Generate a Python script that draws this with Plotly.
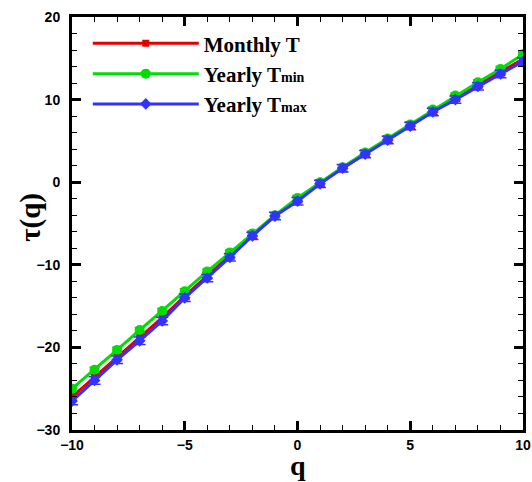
import plotly.graph_objects as go

q = list(range(-10, 11))
monthly_T = [-26.0, -23.6, -21.2, -18.8, -16.4, -13.8, -11.3, -8.9, -6.4, -4.1, -2.1,
             -0.1, 1.7, 3.5, 5.2, 6.9, 8.6, 10.2, 11.8, 13.3, 14.9]
yearly_Tmin = [-25.0, -22.7, -20.3, -17.9, -15.6, -13.2, -10.8, -8.5, -6.2, -4.0, -1.9,
               0.0, 1.8, 3.6, 5.3, 7.0, 8.8, 10.5, 12.1, 13.7, 15.5]
yearly_Tmax = [-26.5, -24.0, -21.5, -19.2, -16.8, -14.0, -11.6, -9.1, -6.5, -4.1, -2.3,
               -0.2, 1.7, 3.4, 5.1, 6.8, 8.5, 10.0, 11.6, 13.1, 14.6]
err_monthly = [0.4] * len(q)
err_min = [0.3] * len(q)
err_max = [0.45] * len(q)

sub = "<span style='font-size:14px'>{}</span>"
fig = go.Figure()
fig.add_trace(go.Scatter(x=q, y=monthly_T, name="Monthly T", mode="lines+markers",
                         line=dict(color="#E00000", width=3),
                         marker=dict(symbol="square", size=7, color="#E00000"),
                         error_y=dict(type="data", array=err_monthly, color="#E00000", thickness=1.5, width=5)))
fig.add_trace(go.Scatter(x=q, y=yearly_Tmin, name="Yearly T" + sub.format("min"), mode="lines+markers",
                         line=dict(color="#00DD00", width=3),
                         marker=dict(symbol="circle", size=10, color="#00DD00"),
                         error_y=dict(type="data", array=err_min, color="#00DD00", thickness=1.5, width=5)))
fig.add_trace(go.Scatter(x=q, y=yearly_Tmax, name="Yearly T" + sub.format("max"), mode="lines+markers",
                         line=dict(color="#3333FF", width=3),
                         marker=dict(symbol="diamond", size=9, color="#3333FF"),
                         error_y=dict(type="data", array=err_max, color="#3333FF", thickness=1.5, width=6)))

tickfont = dict(family="Liberation Sans", size=14, color="black", weight="bold")
titlefont = dict(family="Liberation Serif", size=29, color="black", weight="bold")
fig.update_layout(
    width=532, height=482,
    margin=dict(l=72, r=9, t=17, b=52),
    paper_bgcolor="white", plot_bgcolor="white",
    showlegend=True,
    legend=dict(x=0.035, y=0.985, xanchor="left", yanchor="top",
                bgcolor="rgba(0,0,0,0)", borderwidth=0,
                font=dict(family="Liberation Serif", size=21, color="black", weight="bold"),
                tracegroupgap=0, itemwidth=106),
    xaxis=dict(range=[-10, 10], tickvals=[-10, -5, 0, 5, 10], ticks="inside", ticklen=9, tickwidth=3,
               tickcolor="black", showline=True, linecolor="black", linewidth=3, mirror="ticks",
               showgrid=False, zeroline=False, tickfont=tickfont, automargin=False,
               minor=dict(dtick=1, ticks="inside", ticklen=5, tickwidth=1, tickcolor="black", showgrid=False)),
    yaxis=dict(range=[-30, 20], tickvals=[-30, -20, -10, 0, 10, 20], ticks="inside", ticklen=9, tickwidth=3,
               tickcolor="black", showline=True, linecolor="black", linewidth=3, mirror="ticks",
               showgrid=False, zeroline=False, tickfont=tickfont, automargin=False, ticklabelstandoff=6,
               minor=dict(dtick=2, ticks="inside", ticklen=5, tickwidth=1, tickcolor="black", showgrid=False)),
    annotations=[
        dict(text="q", xref="paper", yref="paper", x=0.5, y=-0.086, xanchor="center", yanchor="middle",
             showarrow=False, font=dict(titlefont, size=28)),
        dict(text="τ(q)", xref="paper", yref="paper", x=-0.091, y=0.516, xanchor="center", yanchor="middle",
             textangle=-90, showarrow=False, font=titlefont),
    ],
)
fig.write_html("out.html")
